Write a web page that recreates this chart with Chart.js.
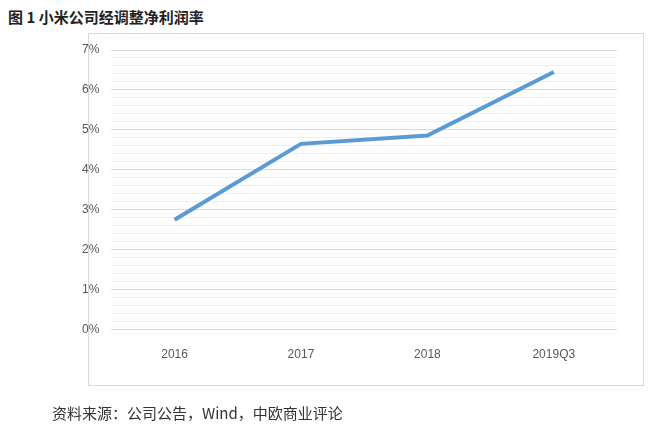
<!DOCTYPE html>
<html>
<head>
<meta charset="utf-8">
<script src="https://cdn.jsdelivr.net/npm/chart.js@4"></script>
<style>
    body { margin: 0; background: #fff; width: 650px; height: 434px; position: relative; overflow: hidden; }
    #title { position: absolute; left: 8px; top: 6px; font: bold 15px "Noto Sans CJK SC", sans-serif; color: #222; }
    #frame { position: absolute; left: 88px; top: 33px; width: 554px; height: 351px; border: 1px solid #d9d9d9; }
    #source { position: absolute; left: 52px; top: 402px; font: 15px "Noto Sans CJK SC", serif; color: #333; }
    #wrap { position: absolute; left: 0; top: 0; width: 650px; height: 434px; }
</style>
</head>
<body>
<div id="title">图 1 小米公司经调整净利润率</div>
<div id="frame"></div>
<div id="wrap"><canvas id="chart"></canvas></div>
<div id="source">资料来源：公司公告，Wind，中欧商业评论</div>
<script>
const categories = ["2016", "2017", "2018", "2019Q3"];
const margin = [2.75, 4.65, 4.86, 6.45];

new Chart(document.getElementById("chart"), {
    type: "line",
    data: {
        labels: categories,
        datasets: [{
            data: margin,
            borderColor: "#5b9bd5",
            borderWidth: 4,
            pointRadius: 0,
            tension: 0
        }]
    },
    options: {
        responsive: true,
        maintainAspectRatio: false,
        animation: false,
        layout: { padding: { left: 70, right: 33, top: 50, bottom: 62 } },
        plugins: { legend: { display: false }, tooltip: { enabled: false } },
        scales: {
            x: {
                offset: true,
                grid: { display: false },
                border: { display: false },
                ticks: { color: "#595959", padding: 10, font: { size: 12, family: "Liberation Sans" } }
            },
            y: {
                min: 0,
                max: 7,
                border: { display: false },
                ticks: {
                    stepSize: 0.2,
                    autoSkip: false,
                    padding: 12,
                    color: "#595959",
                    font: { size: 12, family: "Liberation Sans" },
                    callback: function (v) {
                        const r = Math.round(v * 10) / 10;
                        return Number.isInteger(r) ? r + "%" : "";
                    }
                },
                grid: {
                    drawTicks: false,
                    color: function (ctx) {
                        const r = Math.round(ctx.tick.value * 10) / 10;
                        return Number.isInteger(r) ? "#d9d9d9" : "#efefef";
                    }
                }
            }
        }
    }
});
</script>
</body>
</html>
